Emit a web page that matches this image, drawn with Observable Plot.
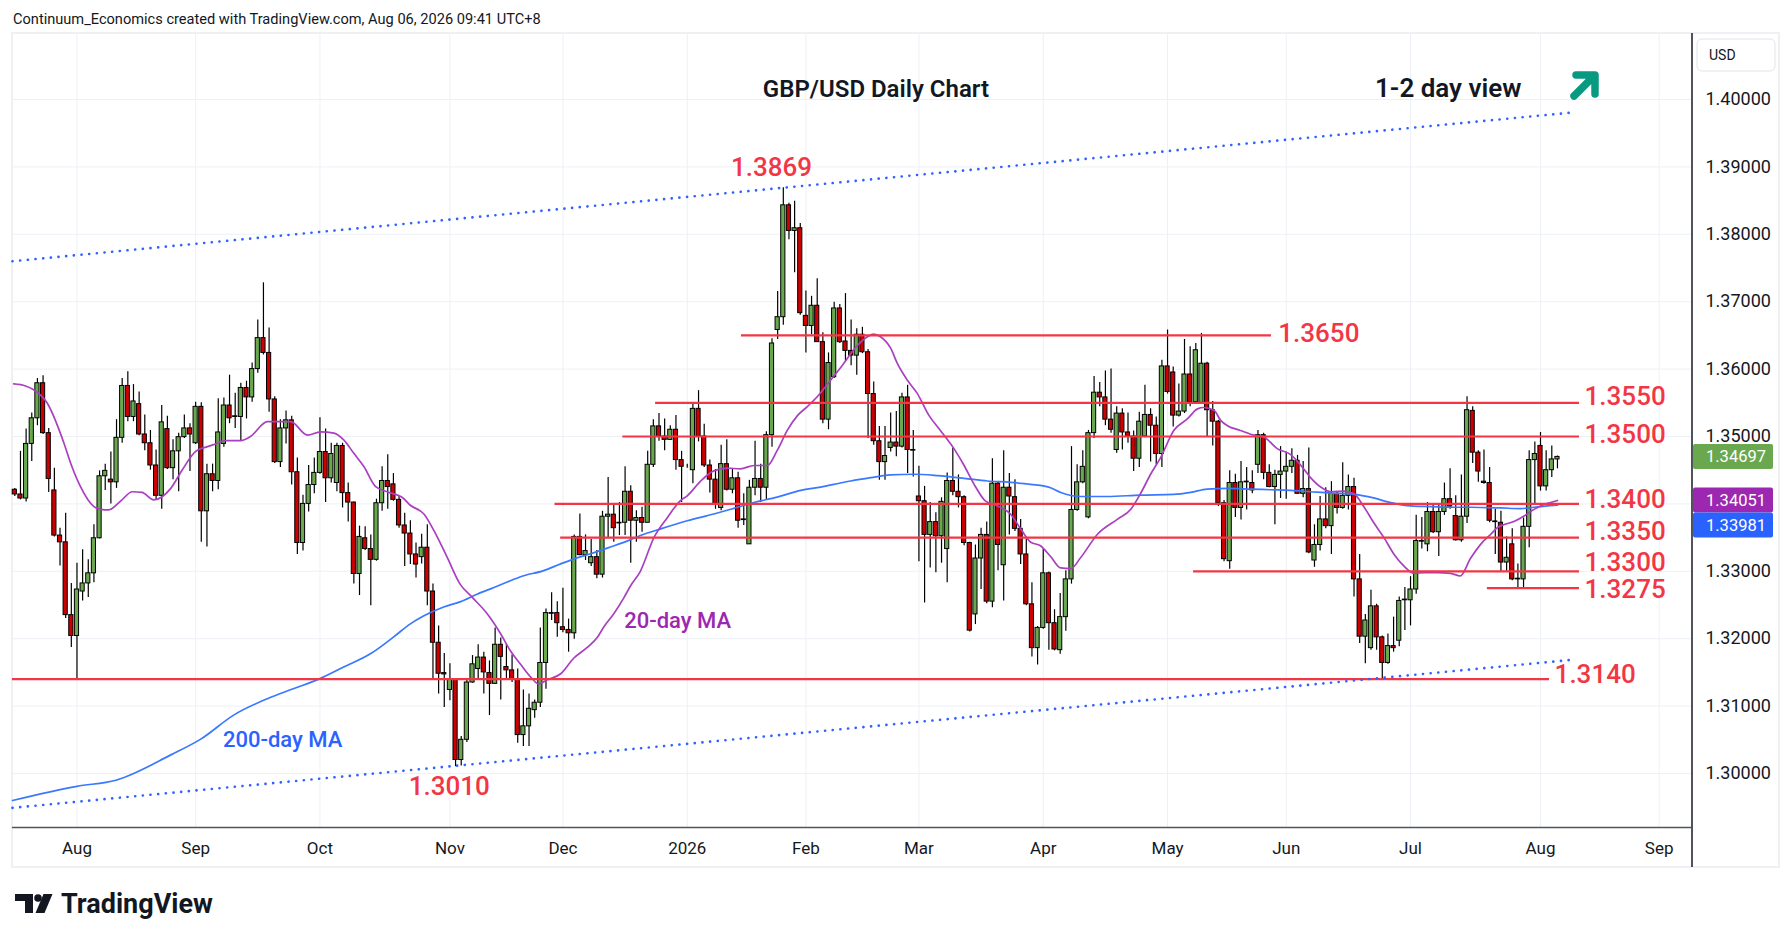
<!DOCTYPE html>
<html><head><meta charset="utf-8">
<script src="https://cdn.jsdelivr.net/npm/d3@7"></script>
<script src="https://cdn.jsdelivr.net/npm/@observablehq/plot@0.6"></script>
<style>
html,body{margin:0;padding:0;background:#fff;}
#wrap{position:relative;width:1792px;height:942px;overflow:hidden;font-family:Roboto,"Noto Sans",sans-serif;color:#131722;}
#frame{position:absolute;left:11px;top:32px;width:1769px;height:836px;box-sizing:border-box;border:2px solid #eef0f4;}
#vline{position:absolute;left:1691px;top:33px;width:1.5px;height:834px;background:#50535e;}
#chart{position:absolute;left:0;top:0;}
#overlay{position:absolute;left:0;top:0;}
</style>
</head><body>
<div id="wrap"><div id="frame"></div><div id="chart"></div><div id="vline"></div><svg id="overlay" width="1792" height="942"></svg></div>
<script>
// ---- daily candles GBP/USD (index 0 = late Jul 2025 ... 273 = Aug 6 2026)
const opens = [
1.3421,1.3414,1.3408,1.3489,1.3527,1.3579,1.3505,1.3420,1.3353,1.3343,
1.3235,1.3204,1.3270,1.3282,1.3297,1.3349,1.3441,1.3436,1.3432,1.3498,
1.3575,1.3529,1.3548,1.3503,1.3490,1.3457,1.3412,1.3511,1.3453,1.3478,
1.3499,1.3512,1.3490,1.3544,1.3389,1.3444,1.3434,1.3489,1.3546,1.3529,
1.3529,1.3572,1.3558,1.3600,1.3646,1.3624,1.3555,1.3462,1.3512,1.3524,
1.3447,1.3342,1.3400,1.3428,1.3446,1.3477,1.3438,1.3431,1.3486,1.3416,
1.3402,1.3296,1.3349,1.3333,1.3317,1.3401,1.3434,1.3429,1.3406,1.3368,
1.3356,1.3325,1.3321,1.3335,1.3270,1.3194,1.3149,1.3124,1.3139,1.3020,
1.3050,1.3135,1.3155,1.3172,1.3149,1.3133,1.3191,1.3158,1.3153,1.3140,
1.3057,1.3070,1.3094,1.3105,1.3164,1.3238,1.3238,1.3217,1.3213,1.3208,
1.3351,1.3324,1.3312,1.3321,1.3295,1.3381,1.3384,1.3371,1.3372,1.3418,
1.3375,1.3379,1.3372,1.3458,1.3515,1.3500,1.3495,1.3510,1.3465,1.3456,
1.3450,1.3541,1.3500,1.3457,1.3436,1.3394,1.3459,1.3421,1.3438,1.3377,
1.3340,1.3424,1.3437,1.3424,1.3502,1.3658,1.3677,1.3843,1.3805,1.3809,
1.3679,1.3664,1.3694,1.3640,1.3525,1.3588,1.3690,1.3641,1.3627,1.3620,
1.3651,1.3625,1.3563,1.3493,1.3462,1.3483,1.3491,1.3485,1.3558,1.3480,
1.3411,1.3404,1.3354,1.3373,1.3352,1.3333,1.3434,1.3418,1.3410,1.3342,
1.3236,1.3319,1.3354,1.3255,1.3430,1.3309,1.3424,1.3410,1.3363,1.3325,
1.3251,1.3186,1.3216,1.3297,1.3223,1.3183,1.3232,1.3288,1.3391,1.3432,
1.3380,1.3505,1.3565,1.3558,1.3525,1.3480,1.3534,1.3506,1.3500,1.3467,
1.3500,1.3532,1.3516,1.3474,1.3604,1.3595,1.3531,1.3537,1.3592,1.3551,
1.3550,1.3608,1.3539,1.3522,1.3401,1.3315,1.3431,1.3394,1.3432,1.3431,
1.3458,1.3502,1.3446,1.3425,1.3443,1.3448,1.3455,1.3464,1.3415,1.3422,
1.3316,1.3339,1.3377,1.3367,1.3415,1.3394,1.3412,1.3425,1.3288,1.3203,
1.3186,1.3248,1.3202,1.3164,1.3189,1.3197,1.3257,1.3257,1.3273,1.3344,
1.3340,1.3388,1.3358,1.3388,1.3407,1.3382,1.3346,1.3381,1.3538,1.3476,
1.3433,1.3431,1.3374,1.3372,1.3313,1.3340,1.3288,1.3288,1.3366,1.3465,
1.3486,1.3426,1.3450,1.3466];
const highs = [
1.3423,1.3478,1.3511,1.3535,1.3586,1.3590,1.3512,1.3453,1.3364,1.3386,
1.3282,1.3312,1.3332,1.3317,1.3369,1.3449,1.3459,1.3477,1.3525,1.3586,
1.3596,1.3577,1.3566,1.3532,1.3509,1.3480,1.3546,1.3530,1.3495,1.3505,
1.3532,1.3519,1.3551,1.3550,1.3459,1.3459,1.3556,1.3557,1.3591,1.3564,
1.3579,1.3582,1.3609,1.3673,1.3728,1.3661,1.3559,1.3525,1.3538,1.3530,
1.3468,1.3413,1.3457,1.3468,1.3528,1.3511,1.3490,1.3490,1.3490,1.3431,
1.3403,1.3367,1.3366,1.3354,1.3407,1.3455,1.3473,1.3445,1.3411,1.3386,
1.3375,1.3342,1.3355,1.3369,1.3281,1.3219,1.3178,1.3163,1.3140,1.3055,
1.3140,1.3175,1.3191,1.3180,1.3167,1.3216,1.3201,1.3192,1.3176,1.3155,
1.3124,1.3118,1.3109,1.3216,1.3244,1.3268,1.3255,1.3275,1.3229,1.3354,
1.3385,1.3354,1.3347,1.3331,1.3389,1.3439,1.3400,1.3402,1.3455,1.3427,
1.3390,1.3395,1.3478,1.3525,1.3534,1.3526,1.3516,1.3531,1.3478,1.3459,
1.3550,1.3568,1.3518,1.3465,1.3451,1.3487,1.3495,1.3452,1.3447,1.3415,
1.3435,1.3493,1.3459,1.3507,1.3645,1.3715,1.3869,1.3846,1.3849,1.3816,
1.3716,1.3708,1.3734,1.3654,1.3624,1.3699,1.3696,1.3712,1.3673,1.3660,
1.3662,1.3629,1.3581,1.3515,1.3515,1.3535,1.3537,1.3564,1.3576,1.3509,
1.3456,1.3426,1.3402,1.3387,1.3409,1.3446,1.3483,1.3443,1.3412,1.3343,
1.3339,1.3364,1.3373,1.3467,1.3432,1.3479,1.3445,1.3436,1.3377,1.3347,
1.3283,1.3218,1.3333,1.3299,1.3243,1.3267,1.3301,1.3485,1.3458,1.3479,
1.3509,1.3589,1.3580,1.3597,1.3600,1.3544,1.3541,1.3535,1.3508,1.3536,
1.3576,1.3541,1.3529,1.3613,1.3658,1.3603,1.3578,1.3644,1.3633,1.3638,
1.3653,1.3610,1.3552,1.3524,1.3405,1.3449,1.3444,1.3463,1.3454,1.3449,
1.3509,1.3505,1.3458,1.3450,1.3485,1.3477,1.3482,1.3472,1.3463,1.3483,
1.3369,1.3411,1.3424,1.3433,1.3418,1.3461,1.3443,1.3438,1.3325,1.3236,
1.3272,1.3251,1.3204,1.3207,1.3232,1.3262,1.3276,1.3292,1.3383,1.3380,
1.3402,1.3400,1.3400,1.3431,1.3452,1.3412,1.3443,1.3559,1.3544,1.3479,
1.3480,1.3454,1.3392,1.3389,1.3351,1.3363,1.3311,1.3379,1.3479,1.3492,
1.3506,1.3479,1.3486,1.3471];
const lows = [
1.3411,1.3406,1.3403,1.3463,1.3516,1.3503,1.3417,1.3351,1.3308,1.3230,
1.3187,1.3141,1.3256,1.3261,1.3283,1.3348,1.3420,1.3400,1.3423,1.3490,
1.3522,1.3522,1.3501,1.3479,1.3450,1.3406,1.3392,1.3451,1.3436,1.3418,
1.3497,1.3448,1.3488,1.3343,1.3336,1.3418,1.3421,1.3484,1.3519,1.3512,
1.3494,1.3526,1.3551,1.3594,1.3621,1.3536,1.3460,1.3454,1.3489,1.3428,
1.3325,1.3330,1.3388,1.3415,1.3444,1.3402,1.3431,1.3418,1.3394,1.3373,
1.3281,1.3264,1.3331,1.3249,1.3315,1.3389,1.3392,1.3404,1.3364,1.3307,
1.3310,1.3290,1.3311,1.3249,1.3140,1.3118,1.3098,1.3108,1.3010,1.3011,
1.3046,1.3134,1.3138,1.3118,1.3086,1.3132,1.3109,1.3138,1.3135,1.3045,
1.3040,1.3040,1.3082,1.3098,1.3125,1.3227,1.3202,1.3209,1.3180,1.3199,
1.3323,1.3316,1.3307,1.3289,1.3290,1.3350,1.3343,1.3353,1.3353,1.3312,
1.3343,1.3358,1.3372,1.3454,1.3493,1.3479,1.3494,1.3450,1.3402,1.3453,
1.3430,1.3492,1.3454,1.3416,1.3392,1.3390,1.3419,1.3415,1.3364,1.3368,
1.3340,1.3412,1.3402,1.3405,1.3484,1.3644,1.3665,1.3792,1.3743,1.3680,
1.3624,1.3651,1.3640,1.3519,1.3510,1.3586,1.3638,1.3611,1.3605,1.3591,
1.3623,1.3497,1.3487,1.3435,1.3435,1.3477,1.3470,1.3483,1.3445,1.3440,
1.3314,1.3253,1.3305,1.3298,1.3312,1.3283,1.3412,1.3394,1.3338,1.3210,
1.3221,1.3273,1.3252,1.3246,1.3301,1.3256,1.3354,1.3359,1.3310,1.3249,
1.3173,1.3161,1.3214,1.3183,1.3182,1.3177,1.3211,1.3281,1.3389,1.3430,
1.3378,1.3497,1.3544,1.3516,1.3505,1.3475,1.3480,1.3490,1.3448,1.3454,
1.3498,1.3462,1.3458,1.3454,1.3563,1.3514,1.3529,1.3534,1.3544,1.3549,
1.3548,1.3500,1.3486,1.3396,1.3314,1.3303,1.3380,1.3376,1.3391,1.3415,
1.3445,1.3436,1.3424,1.3369,1.3408,1.3407,1.3445,1.3414,1.3409,1.3326,
1.3306,1.3330,1.3363,1.3325,1.3385,1.3392,1.3391,1.3262,1.3193,1.3163,
1.3183,1.3183,1.3141,1.3162,1.3180,1.3188,1.3212,1.3219,1.3266,1.3333,
1.3329,1.3356,1.3322,1.3383,1.3392,1.3345,1.3343,1.3371,1.3460,1.3432,
1.3429,1.3372,1.3325,1.3299,1.3300,1.3286,1.3275,1.3275,1.3335,1.3399,
1.3419,1.3419,1.3439,1.3452];
const closes = [
1.3414,1.3408,1.3489,1.3527,1.3579,1.3505,1.3437,1.3353,1.3343,1.3235,
1.3204,1.3273,1.3282,1.3297,1.3349,1.3441,1.3449,1.3432,1.3498,1.3575,
1.3529,1.3552,1.3503,1.3490,1.3457,1.3412,1.3521,1.3453,1.3478,1.3499,
1.3512,1.3503,1.3544,1.3389,1.3444,1.3434,1.3506,1.3546,1.3527,1.3530,
1.3572,1.3558,1.3600,1.3646,1.3624,1.3555,1.3462,1.3512,1.3524,1.3447,
1.3342,1.3400,1.3428,1.3446,1.3477,1.3438,1.3474,1.3486,1.3416,1.3402,
1.3296,1.3351,1.3333,1.3317,1.3401,1.3434,1.3425,1.3406,1.3368,1.3356,
1.3325,1.3310,1.3335,1.3270,1.3194,1.3148,1.3147,1.3139,1.3020,1.3050,
1.3135,1.3162,1.3172,1.3150,1.3133,1.3191,1.3173,1.3153,1.3140,1.3057,
1.3070,1.3096,1.3105,1.3164,1.3238,1.3237,1.3223,1.3213,1.3208,1.3351,
1.3324,1.3330,1.3321,1.3295,1.3381,1.3384,1.3364,1.3372,1.3418,1.3375,
1.3379,1.3372,1.3458,1.3515,1.3500,1.3495,1.3510,1.3465,1.3455,1.3456,
1.3541,1.3500,1.3457,1.3436,1.3400,1.3459,1.3421,1.3438,1.3375,1.3376,
1.3424,1.3437,1.3424,1.3502,1.3638,1.3677,1.3843,1.3805,1.3809,1.3683,
1.3664,1.3694,1.3640,1.3525,1.3609,1.3690,1.3640,1.3627,1.3620,1.3651,
1.3625,1.3563,1.3493,1.3462,1.3471,1.3491,1.3485,1.3558,1.3480,1.3479,
1.3404,1.3354,1.3373,1.3352,1.3403,1.3434,1.3418,1.3410,1.3342,1.3212,
1.3319,1.3354,1.3255,1.3430,1.3339,1.3424,1.3411,1.3363,1.3325,1.3251,
1.3186,1.3216,1.3297,1.3223,1.3184,1.3232,1.3288,1.3391,1.3432,1.3455,
1.3505,1.3565,1.3558,1.3525,1.3510,1.3534,1.3506,1.3500,1.3467,1.3522,
1.3532,1.3516,1.3474,1.3604,1.3566,1.3531,1.3537,1.3592,1.3551,1.3628,
1.3608,1.3539,1.3522,1.3401,1.3318,1.3431,1.3394,1.3432,1.3433,1.3420,
1.3502,1.3446,1.3425,1.3443,1.3448,1.3455,1.3464,1.3415,1.3422,1.3328,
1.3339,1.3377,1.3367,1.3415,1.3394,1.3412,1.3425,1.3288,1.3203,1.3227,
1.3248,1.3202,1.3164,1.3189,1.3186,1.3256,1.3258,1.3273,1.3345,1.3345,
1.3388,1.3358,1.3388,1.3407,1.3396,1.3346,1.3381,1.3539,1.3476,1.3448,
1.3431,1.3375,1.3373,1.3313,1.3320,1.3288,1.3289,1.3366,1.3465,1.3474,
1.3426,1.3450,1.3466,1.34697];

// ---- moving averages (sampled: bar index, value)
const ma20Idx = [-0.2,1.9,3.4,5.7,8.7,9.9,11.6,14.0,15.2,16.6,18.7,20.8,22.5,24.6,27.6,29.6,32.0,34.1,35.2,37.3,40.0,41.7,44.7,47.0,48.8,51.8,54.1,56.5,58.2,60.0,61.8,63.8,65.9,68.8,70.0,72.4,74.2,76.5,78.8,81.0,83.6,86.0,87.7,89.5,91.3,92.7,94.2,96.6,98.9,101.3,103.1,104.2,106.0,107.8,109.0,110.7,113.1,115.5,117.8,119.0,121.4,123.7,126.1,128.4,130.8,133.2,134.9,136.7,138.5,140.2,142.0,144.4,146.4,149.1,150.9,152.0,153.2,155.0,156.2,158.0,159.7,161.8,163.8,166.2,168.0,169.7,171.8,173.9,176.2,178.0,179.8,181.5,183.3,185.1,186.9,188.6,191.6,195.1,197.5,199.2,201.0,202.8,205.1,207.5,209.3,210.4,212.2,213.4,214.6,216.9,219.3,221.1,223.4,225.8,227.6,229.3,231.1,232.9,235.2,237.0,238.8,240.5,242.3,244.1,245.8,247.6,249.4,251.7,254.1,255.8,257.6,259.4,261.2,262.4,263.5,265.3,267.1,268.3,270.0,271.8,273.0];
const ma20Val = [1.3578,1.3575,1.3569,1.3550,1.3490,1.3460,1.3426,1.3396,1.3392,1.3391,1.3404,1.3418,1.3417,1.3406,1.3423,1.3450,1.3478,1.3485,1.3488,1.3494,1.3494,1.3500,1.3522,1.3522,1.3522,1.3502,1.3507,1.3505,1.3495,1.3475,1.3455,1.3426,1.3418,1.3408,1.3398,1.3385,1.3360,1.3321,1.3281,1.3261,1.3237,1.3207,1.3182,1.3162,1.3143,1.3133,1.3139,1.3148,1.3171,1.3187,1.3202,1.3217,1.3237,1.3261,1.3279,1.3300,1.3350,1.3380,1.3405,1.3412,1.3434,1.3449,1.3453,1.3452,1.3457,1.3457,1.3479,1.3509,1.3531,1.3544,1.3559,1.3584,1.3605,1.3635,1.3648,1.3652,1.3648,1.3631,1.3608,1.3583,1.3564,1.3531,1.3509,1.3482,1.3457,1.3430,1.3404,1.3397,1.3385,1.3363,1.3343,1.3338,1.3322,1.3305,1.3304,1.3320,1.3355,1.3377,1.3392,1.3415,1.3444,1.3469,1.3509,1.3526,1.3541,1.3543,1.3539,1.3524,1.3516,1.3509,1.3502,1.3499,1.3482,1.3473,1.3457,1.3439,1.3425,1.3418,1.3419,1.3415,1.3395,1.3372,1.3350,1.3325,1.3308,1.3297,1.3298,1.3298,1.3297,1.3293,1.3319,1.3340,1.3355,1.3365,1.3369,1.3374,1.3382,1.3389,1.3397,1.3402,1.34051];
const ma200Idx = [-0.41,11.0,17.9,27.7,32.9,38.8,44.7,49.4,53.8,58.2,63.0,67.1,70.0,72.4,75.9,78.9,81.8,84.8,87.7,89.5,93.6,96.6,99.5,101.9,105.4,109.0,110.7,114.3,119.0,123.7,126.7,130.8,134.9,139.1,142.6,146.1,147.9,151.5,155.0,159.1,163.3,168.0,172.1,176.2,179.8,183.3,185.1,188.6,193.3,199.2,205.1,208.1,211.0,214.6,218.7,222.2,225.8,229.3,232.9,236.4,239.9,243.5,247.0,250.6,254.1,257.6,263.0,266.5,268.8,273.0];
const ma200Val = [1.2960,1.2981,1.2990,1.3028,1.3051,1.3087,1.3111,1.3126,1.3140,1.3158,1.3178,1.3203,1.3222,1.3234,1.3247,1.3255,1.3266,1.3276,1.3286,1.3292,1.3301,1.3311,1.3320,1.3326,1.3336,1.3347,1.3353,1.3363,1.3375,1.3385,1.3392,1.3402,1.3410,1.3420,1.3425,1.3431,1.3434,1.3439,1.3443,1.3444,1.3442,1.3438,1.3434,1.3432,1.3429,1.3424,1.3417,1.3411,1.3411,1.3413,1.3414,1.3417,1.3422,1.3423,1.3422,1.3421,1.3420,1.3418,1.3416,1.3415,1.3410,1.3402,1.3397,1.3396,1.3395,1.3395,1.3394,1.3393,1.3395,1.33981];

// ---- axes
const tickIdx = [11,32,54,77,97,119,140,160,182,204,225,247,270,291];
const tickLabels = ["Aug","Sep","Oct","Nov","Dec","2026","Feb","Mar","Apr","May","Jun","Jul","Aug","Sep"];
const gridPrices = [1.30,1.31,1.32,1.33,1.34,1.35,1.36,1.37,1.38,1.39,1.40];
const priceTicks = [1.30,1.31,1.32,1.33,1.35,1.36,1.37,1.38,1.39,1.40];

// ---- horizontal levels
const levelPrice = [1.3650,1.3550,1.3500,1.3400,1.3350,1.3300,1.3275,1.3140];
const levelFrom  = [128.6,113.4,107.6,95.6,96.6,208.6,260.6,-0.41];
const levelTo    = [222.4,276.9,276.9,276.9,276.9,276.9,276.9,271.6];
const levelText  = ["1.3650","1.3550","1.3500","1.3400","1.3350","1.3300","1.3275","1.3140"];
const levelLabelIdx   = [223.6,277.8,277.8,277.8,277.8,277.8,277.8,272.5];
const levelLabelPrice = [1.36528,1.35586,1.35030,1.34070,1.33591,1.33123,1.32723,1.31469];

// ---- channel (dotted)
const channelIdx = [-0.41,276.0];
const channelUpper = [1.3760,1.3981];
const channelLower = [1.2949,1.3169];

// ---- last values on the price scale
const lastClose = 1.34697, lastMA20 = 1.34051, lastMA200 = 1.33981;

const GREEN = "#6aa84f", RED = "#cc0000";
const N = Math.min(opens.length, highs.length, lows.length, closes.length);
const bars = d3.range(N).map(i => ({i, o: opens[i], h: highs[i], l: lows[i], c: closes[i]}));
const up = bars.filter(d => d.c >= d.o), dn = bars.filter(d => d.c < d.o);
const ma20 = ma20Idx.map((x, k) => ({x, y: ma20Val[k]}));
const ma200 = ma200Idx.map((x, k) => ({x, y: ma200Val[k]}));
const levels = levelPrice.map((p, k) => ({p, from: levelFrom[k], to: levelTo[k], t: levelText[k], lx: levelLabelIdx[k], ly: levelLabelPrice[k]}));
const upper = channelIdx.map((x, k) => ({x, y: channelUpper[k]}));
const lower = channelIdx.map((x, k) => ({x, y: channelLower[k]}));
const yBottom = 1.291988, yTop = 1.409644;

const plot = Plot.plot({
  width: 1792, height: 870,
  marginLeft: 12, marginRight: 100, marginTop: 34, marginBottom: 43,
  x: {domain: [-0.41, 296.9]},
  y: {domain: [yBottom, yTop]},
  style: {fontFamily: "Roboto, 'Noto Sans', sans-serif", fontSize: "17px", color: "#131722", background: "transparent", overflow: "visible"},
  marks: [
    Plot.ruleY(gridPrices, {stroke: "#edf0f5", strokeWidth: 1}),
    Plot.ruleX(tickIdx, {stroke: "#edf0f5", strokeWidth: 1}),
    Plot.ruleX(bars, {x: "i", y1: "l", y2: "h", stroke: "#000", strokeWidth: 1.2}),
    Plot.rect(up, {x1: d => d.i - 0.37, x2: d => d.i + 0.37, y1: "o", y2: "c", fill: GREEN, stroke: "#000", strokeWidth: 1}),
    Plot.rect(dn, {x1: d => d.i - 0.37, x2: d => d.i + 0.37, y1: "c", y2: "o", fill: RED, stroke: "#000", strokeWidth: 1}),
    Plot.line(ma200, {x: "x", y: "y", stroke: "#3a78ff", strokeWidth: 1.7, curve: "monotone-x"}),
    Plot.line(ma20, {x: "x", y: "y", stroke: "#a940c0", strokeWidth: 1.7, curve: "monotone-x"}),
    Plot.ruleY(levels, {y: "p", x1: "from", x2: "to", stroke: "#f23645", strokeWidth: 2.2}),
    Plot.line(upper, {x: "x", y: "y", stroke: "#2f62ff", strokeWidth: 2.6, strokeDasharray: "0.1,7.6", strokeLinecap: "round"}),
    Plot.line(lower, {x: "x", y: "y", stroke: "#2f62ff", strokeWidth: 2.6, strokeDasharray: "0.1,7.6", strokeLinecap: "round"}),
    Plot.text(levels, {x: "lx", y: "ly", text: "t", textAnchor: "start", fill: "#f23645", fontSize: 26, fontWeight: 500}),
    Plot.text(["1.3869"], {x: [133.9], y: [1.38991], text: d => d, fill: "#f23645", fontSize: 26, fontWeight: 500}),
    Plot.text(["1.3010"], {x: [76.9], y: [1.29807], text: d => d, fill: "#f23645", fontSize: 26, fontWeight: 500}),
    Plot.text(["20-day MA"], {x: [117.3], y: [1.32261], text: d => d, fill: "#9c27b0", fontSize: 22, fontWeight: 500}),
    Plot.text(["200-day MA"], {x: [47.4], y: [1.30498], text: d => d, fill: "#2962ff", fontSize: 22, fontWeight: 500}),
    Plot.axisY({anchor: "right", ticks: priceTicks, tickFormat: d3.format(".5f"), tickSize: 0, tickPadding: 13, textAnchor: "start", fontSize: 18, label: null}),
    Plot.axisX({ticks: tickIdx, tickFormat: d => tickLabels[tickIdx.indexOf(d)], tickSize: 0, tickPadding: 14, fontSize: 17, label: null}),
    Plot.ruleY([yBottom], {stroke: "#50535e", strokeWidth: 1.5})
  ]
});
document.getElementById("chart").appendChild(plot);

// ---- overlay: header, title, arrow, price boxes, logo
const y = plot.scale("y");
const ov = d3.select("#overlay").style("font-family", "Roboto, 'Noto Sans', sans-serif");
ov.append("text").attr("x", 13).attr("y", 24).attr("font-size", 14.6).attr("fill", "#131722")
  .text("Continuum_Economics created with TradingView.com, Aug 06, 2026 09:41 UTC+8");
ov.append("text").attr("x", 876).attr("y", 97).attr("text-anchor", "middle").attr("font-size", 24).attr("font-weight", 600).attr("fill", "#131722").text("GBP/USD Daily Chart");
ov.append("text").attr("x", 1375).attr("y", 97).attr("font-size", 26).attr("font-weight", 600).attr("fill", "#131722").text("1-2 day view");
ov.append("path").attr("d", "M1574,96 L1594,76 M1576,75 L1595,75 L1595,94").attr("fill", "none")
  .attr("stroke", "#089981").attr("stroke-width", 7.5).attr("stroke-linecap", "round").attr("stroke-linejoin", "round");
// USD box
ov.append("rect").attr("x", 1697).attr("y", 39).attr("width", 78).attr("height", 32).attr("rx", 5).attr("fill", "#fff").attr("stroke", "#e0e3eb");
ov.append("text").attr("x", 1709).attr("y", 60).attr("font-size", 14).attr("fill", "#131722").text("USD");
// last value boxes
const boxes = [
  {v: lastClose, c: GREEN, cy: y.apply(lastClose)},
  {v: lastMA20, c: "#9c27b0", cy: y.apply(lastMA20)},
  {v: lastMA200, c: "#2962ff", cy: y.apply(lastMA20) + 25}
];
for (const b of boxes) {
  ov.append("rect").attr("x", 1693).attr("y", b.cy - 12.5).attr("width", 80).attr("height", 25).attr("rx", 2).attr("fill", b.c);
  ov.append("text").attr("x", 1706).attr("y", b.cy).attr("dy", "0.35em").attr("font-size", 16.5).attr("fill", "#fff").text(d3.format(".5f")(b.v));
}
// TradingView logo
const lg = ov.append("g").attr("fill", "#131722");
lg.append("path").attr("d", "M15,894 H33 V913 H25 V901 H15 Z");
lg.append("circle").attr("cx", 38).attr("cy", 898).attr("r", 3.8);
lg.append("path").attr("d", "M43.5,894 H52.5 L44.5,913 H35.5 Z");
lg.append("text").attr("x", 61).attr("y", 913).attr("font-size", 27).attr("font-weight", 700).text("TradingView");
</script>
</body></html>
